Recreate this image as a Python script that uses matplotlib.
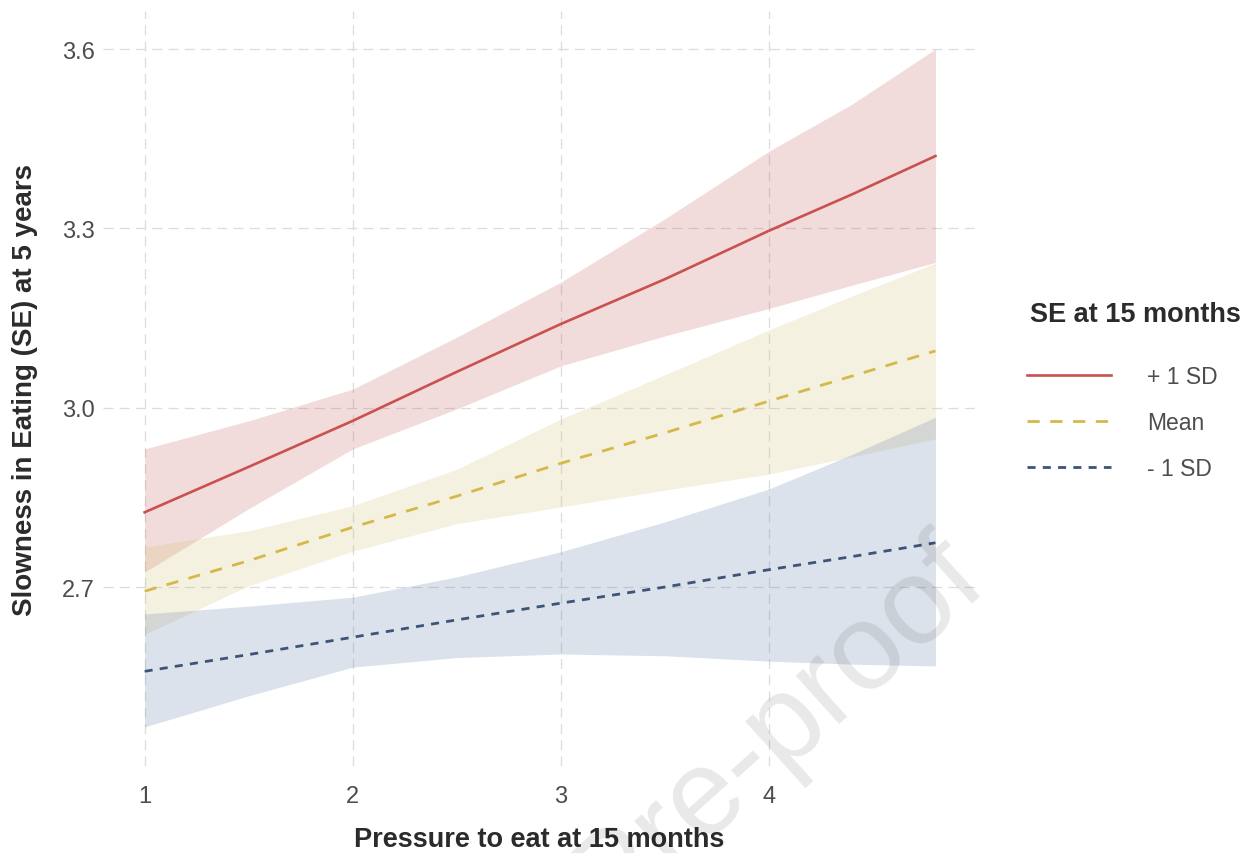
import matplotlib
matplotlib.use("Agg")
import matplotlib.pyplot as plt
from matplotlib.lines import Line2D

plt.rcParams['font.family'] = ['Liberation Sans', 'DejaVu Sans']

# Pressure to eat at 15 months (x) and predicted slowness in eating at 5 years
pressure = [1.0, 1.5, 2.0, 2.5, 3.0, 3.5, 4.0, 4.4, 4.8]

plus_sd_fit = [2.825, 2.901, 2.978, 3.060, 3.140, 3.215, 3.296, 3.357, 3.421]
plus_sd_upper = [2.931, 2.978, 3.031, 3.118, 3.210, 3.316, 3.429, 3.508, 3.600]
plus_sd_lower = [2.725, 2.831, 2.931, 2.998, 3.070, 3.120, 3.166, 3.205, 3.243]

mean_fit = [2.693, 2.744, 2.800, 2.852, 2.907, 2.958, 3.011, 3.053, 3.095]
mean_upper = [2.767, 2.794, 2.836, 2.897, 2.981, 3.055, 3.130, 3.187, 3.242]
mean_lower = [2.621, 2.702, 2.760, 2.806, 2.834, 2.862, 2.889, 2.918, 2.948]

minus_sd_fit = [2.559, 2.587, 2.616, 2.645, 2.673, 2.700, 2.729, 2.751, 2.774]
minus_sd_upper = [2.655, 2.668, 2.683, 2.717, 2.759, 2.809, 2.864, 2.922, 2.984]
minus_sd_lower = [2.466, 2.518, 2.566, 2.582, 2.588, 2.585, 2.576, 2.571, 2.568]

group_labels = ['+ 1 SD', 'Mean', '- 1 SD']
legend_title = 'SE at 15 months'
x_ticks = [1, 2, 3, 4]
y_ticks = [2.7, 3.0, 3.3, 3.6]

line_colors = ['#C9514F', '#D4B94A', '#3E5378']
fill_colors = ['#C0504D', '#CDB964', '#506EA0']
line_styles = ['-', (0, (4.4, 3.8)), (0, (2.9, 2.6))]
line_widths = [1.9, 2.0, 2.0]

W, H = 1248, 854
fig = plt.figure(figsize=(W / 100, H / 100), dpi=100)
fig.patch.set_facecolor('white')

# panel in pixel units
px_left, px_right, px_top, px_bottom = 103, 975, 12, 767
ax = fig.add_axes([px_left / W, 1 - px_bottom / H,
                   (px_right - px_left) / W, (px_bottom - px_top) / H])

ax.set_xlim(0.80, 4.99)
ax.set_ylim(2.4006, 3.6636)

ax.set_xticks(x_ticks)
ax.set_yticks(y_ticks)
ax.set_xticklabels([str(t) for t in x_ticks])
ax.set_yticklabels([f'{t:.1f}' for t in y_ticks])
ax.grid(True, color='#DCDCDC', linewidth=0.9, linestyle=(0, (8, 5)))
ax.set_axisbelow(True)
for s in ax.spines.values():
    s.set_visible(False)
ax.tick_params(axis='both', length=0, labelsize=17, labelcolor='#4D4D4D')
ax.tick_params(axis='x', pad=14)
ax.tick_params(axis='y', pad=6)

series = [
    (plus_sd_fit, plus_sd_lower, plus_sd_upper),
    (mean_fit, mean_lower, mean_upper),
    (minus_sd_fit, minus_sd_lower, minus_sd_upper),
]
for (fit, lo, hi), fc in zip(series, fill_colors):
    ax.fill_between(pressure, lo, hi, color=fc, alpha=0.2, linewidth=0, zorder=2)
for (fit, lo, hi), lc, ls, lw in zip(series, line_colors, line_styles, line_widths):
    ax.plot(pressure, fit, color=lc, linestyle=ls, linewidth=lw, zorder=3)

ax.set_xlabel('Pressure to eat at 15 months', fontsize=19.5, fontweight='bold',
              color='#2B2B2B')
ax.xaxis.set_label_coords(0.5, (px_bottom - 840) / (px_bottom - px_top))
ax.xaxis.label.set_va('center')
ax.set_ylabel('Slowness in Eating (SE) at 5 years', fontsize=20,
              fontweight='bold', color='#2B2B2B')
ax.yaxis.set_label_coords((25 - px_left) / (px_right - px_left), 0.5)
ax.yaxis.label.set_va('center')

# legend: title text plus line keys
fig.text(1030 / W, 1 - 315 / H, legend_title, fontsize=19.5, fontweight='bold',
         color='#2B2B2B', ha='left', va='center')
handles = [Line2D([0], [0], color=lc, linestyle=ls, linewidth=lw)
           for lc, ls, lw in zip(line_colors, line_styles, line_widths)]
leg = fig.legend(handles, group_labels,
                 loc='upper left', bbox_to_anchor=(1006 / W, 1 - 345 / H),
                 frameon=False, fontsize=16.5, handlelength=3.7,
                 handletextpad=1.55, labelspacing=1.02)
for t in leg.get_texts():
    t.set_color('#4D4D4D')

# faint diagonal watermark
fig.text(990 / W, 1 - 588 / H, 'Journal Pre-proof', fontsize=88,
         rotation=42, rotation_mode='anchor', ha='right', va='baseline',
         color='black', alpha=0.09, zorder=10)

fig.savefig('out.png', dpi=100, facecolor='white')
